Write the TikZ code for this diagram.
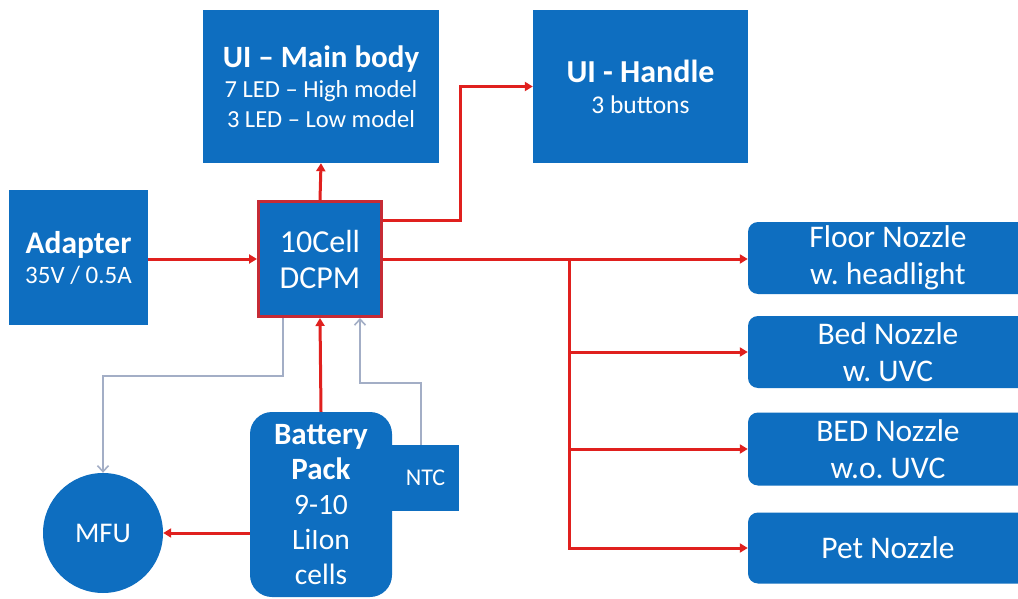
\documentclass[tikz,border=0pt]{standalone}
\usepackage{fontspec}
\setmainfont{Carlito}
\usetikzlibrary{arrows.meta}
\definecolor{boxblue}{HTML}{0E6EC0}
\definecolor{linered}{HTML}{E0201E}
\definecolor{bordred}{HTML}{C62B35}
\definecolor{sigray}{HTML}{A3AEC6}
\frenchspacing
\begin{document}
\begin{tikzpicture}[x=1pt,y=-1pt,
  blk/.style={fill=boxblue,draw=none,text=white,align=center,inner sep=0pt},
  nozzle/.style={blk,rounded corners=10pt,minimum width=280pt,font=\fontsize{31.5}{37}\selectfont},
  pwr/.style={draw=linered,line width=3pt,-{Triangle[length=8pt,width=9pt]}},
  sig/.style={draw=sigray,line width=1.6pt,-{Straight Barb[length=6pt,width=11pt]}}]
\clip (0,0) rectangle (1018,599);
\fill[white] (0,0) rectangle (1018,599);

% boxes
\node[blk,minimum width=236pt,minimum height=153pt,font=\fontsize{24.5}{30}\selectfont] (main) at (321,86.5)
  {{\fontsize{31}{30}\selectfont\bfseries UI – Main body}\\7 LED – High model\\3 LED – Low model};
\node[blk,minimum width=215pt,minimum height=153pt,font=\fontsize{25.5}{31}\selectfont] (handle) at (640.5,86.5)
  {{\fontsize{32}{31}\selectfont\bfseries UI - Handle}\\3 buttons};
\node[blk,minimum width=139pt,minimum height=135pt,font=\fontsize{25}{30}\selectfont] (adapter) at (78.5,257.5)
  {{\fontsize{31.5}{30}\selectfont\bfseries Adapter}\\35V / 0.5A};
\node[blk,draw=bordred,line width=3pt,minimum width=123pt,minimum height=115pt,font=\fontsize{32}{36}\selectfont] (dcpm) at (320,259)
  {10Cell\\DCPM};
\node[blk,minimum width=67pt,minimum height=66pt,font=\fontsize{24}{28}\selectfont] (ntc) at (425.5,478) {NTC};
\node[blk,rounded corners=22pt,minimum width=142pt,minimum height=185pt,font=\fontsize{29.5}{35}\selectfont] (battery) at (321,504.5)
  {{\fontsize{31}{35}\selectfont\bfseries Battery}\\{\fontsize{31}{35}\selectfont\bfseries Pack}\\9-10\\LiIon\\cells};
\node[blk,circle,minimum size=120pt,font=\fontsize{28.5}{32}\selectfont] (mfu) at (103,533) {MFU};

\node[nozzle,minimum height=72pt] (floor) at (888,258) {Floor Nozzle\\w. headlight};
\node[nozzle,minimum height=72pt] (bed) at (888,352) {Bed Nozzle\\w. UVC};
\node[nozzle,minimum height=73pt] (bedo) at (888,449) {BED Nozzle\\w.o. UVC};
\node[nozzle,minimum height=71pt] (pet) at (888,548) {Pet Nozzle};

% power connectors
\draw[pwr] (adapter.east |- dcpm.west) -- (dcpm.west);
\draw[pwr] (dcpm.north) -- (main.south);
\draw[pwr] ([yshift=39pt]dcpm.east) -- ++(77,0) |- (handle.west);
\coordinate (bus) at (569,259);
\draw[pwr] (dcpm.east) -- (dcpm.east -| floor.west);
\draw[pwr] (bus) |- (pet.west);
\draw[pwr] (bus |- bed.west) -- (bed.west);
\draw[pwr] (bus |- bedo.west) -- (bedo.west);
\draw[pwr] (battery.north) -- (dcpm.south);
\draw[pwr] (battery.west |- mfu.east) -- (mfu.east);

% signal connectors
\draw[sig] ([xshift=-37pt]dcpm.south) -- ++(0,58) -| (mfu.north);
\draw[sig] ([xshift=-4.5pt]ntc.north) -- ++(0,-62) -| ([xshift=40pt]dcpm.south);
\end{tikzpicture}
\end{document}
